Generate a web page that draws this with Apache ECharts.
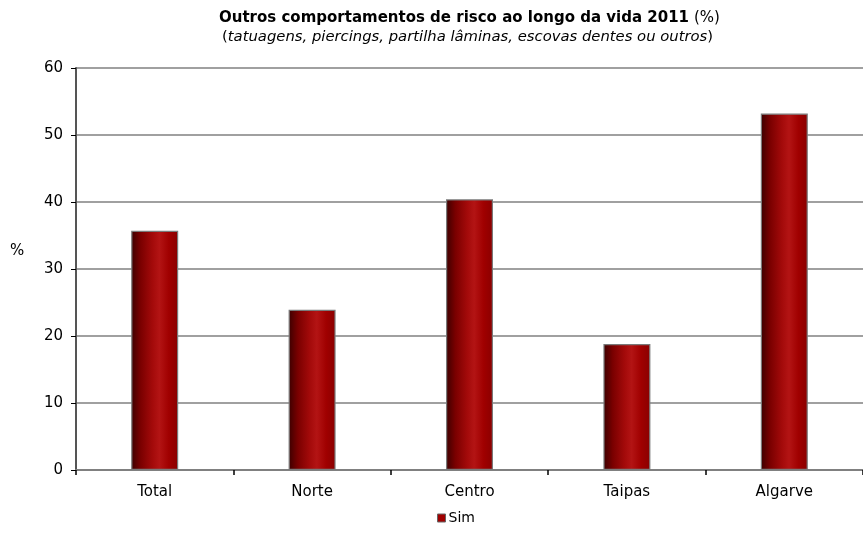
<!DOCTYPE html>
<html>
<head>
<meta charset="utf-8">
<script src="https://cdn.jsdelivr.net/npm/echarts@6/dist/echarts.min.js"></script>
<style>
  html, body { margin: 0; padding: 0; background: #fff; }
  #chart { width: 863px; height: 535px; }
</style>
</head>
<body>
<div id="chart"></div>
<script>
// Categories (regions) and the share answering "Sim"
const categories = ['Total', 'Norte', 'Centro', 'Taipas', 'Algarve'];
const simValues = [35.7, 23.9, 40.4, 18.8, 53.2];
const yTicks = [0, 10, 20, 30, 40, 50, 60];
const yAxisUnit = '%';

const FONT = '"DejaVu Sans", Arial, sans-serif';

// Cylinder-like horizontal shading for the bars
const barFill = new echarts.graphic.LinearGradient(0, 0, 1, 0, [
  { offset: 0, color: '#3c0000' },
  { offset: 0.2, color: '#7a0000' },
  { offset: 0.45, color: '#a30a0a' },
  { offset: 0.6, color: '#b31414' },
  { offset: 0.8, color: '#a00000' },
  { offset: 1, color: '#8a0000' }
]);

const chart = echarts.init(document.getElementById('chart'), null, { renderer: 'canvas' });

chart.setOption({
  animation: false,
  backgroundColor: '#ffffff',
  title: [
    {
      left: 214,
      top: 4,
      text: '{b|Outros comportamentos de risco ao longo da vida 2011} {n|(%)}',
      textStyle: {
        fontWeight: 'normal',
        rich: {
          b: { fontFamily: FONT, fontSize: 15, fontWeight: 'bold', color: '#000' },
          n: { fontFamily: FONT, fontSize: 15, fontWeight: 'normal', color: '#000' }
        }
      }
    },
    {
      left: 217,
      top: 25,
      text: '{n|(}{i|tatuagens, piercings, partilha lâminas, escovas dentes ou outros}{n|)}',
      textStyle: {
        fontWeight: 'normal',
        rich: {
          n: { fontFamily: FONT, fontSize: 14.8, fontWeight: 'normal', color: '#000' },
          i: { fontFamily: FONT, fontSize: 14.8, fontWeight: 'normal', fontStyle: 'italic', color: '#000' }
        }
      }
    }
  ],
  graphic: [{
    type: 'text',
    left: 10,
    top: 244,
    style: { text: yAxisUnit, font: '15px ' + FONT, fill: '#000' }
  }],
  legend: {
    bottom: 5,
    left: 432,
    itemWidth: 8,
    itemHeight: 8,
    itemGap: 4,
    icon: 'rect',
    data: [{ name: 'Sim', itemStyle: { color: '#a00000', borderColor: '#666', borderWidth: 1 } }],
    textStyle: { fontFamily: FONT, fontSize: 14, color: '#000', padding: [0, 0, 0, -2] }
  },
  grid: {
    left: 76,
    top: 68,
    width: 791.5,
    height: 402,
    containLabel: false
  },
  xAxis: {
    type: 'category',
    data: categories,
    boundaryGap: true,
    axisLine: { show: true, lineStyle: { color: '#808080', width: 2 } },
    axisTick: { show: true, length: 5, lineStyle: { color: '#000', width: 1.5 } },
    axisLabel: { fontFamily: FONT, fontSize: 15, color: '#000', margin: 15 },
    splitLine: { show: false }
  },
  yAxis: {
    type: 'value',
    min: yTicks[0],
    max: yTicks[yTicks.length - 1],
    interval: 10,
    axisLine: { show: true, lineStyle: { color: '#555', width: 2 } },
    axisTick: { show: true, length: 5, lineStyle: { color: '#000', width: 1 } },
    axisLabel: { fontFamily: FONT, fontSize: 15, color: '#000', margin: 13 },
    splitLine: { show: true, lineStyle: { color: '#a0a0a0', width: 2 } }
  },
  series: [{
    name: 'Sim',
    type: 'bar',
    data: simValues,
    barWidth: 47,
    itemStyle: {
      color: barFill,
      borderColor: '#7a7a7a',
      borderWidth: 1.2
    }
  }]
});
</script>
</body>
</html>
